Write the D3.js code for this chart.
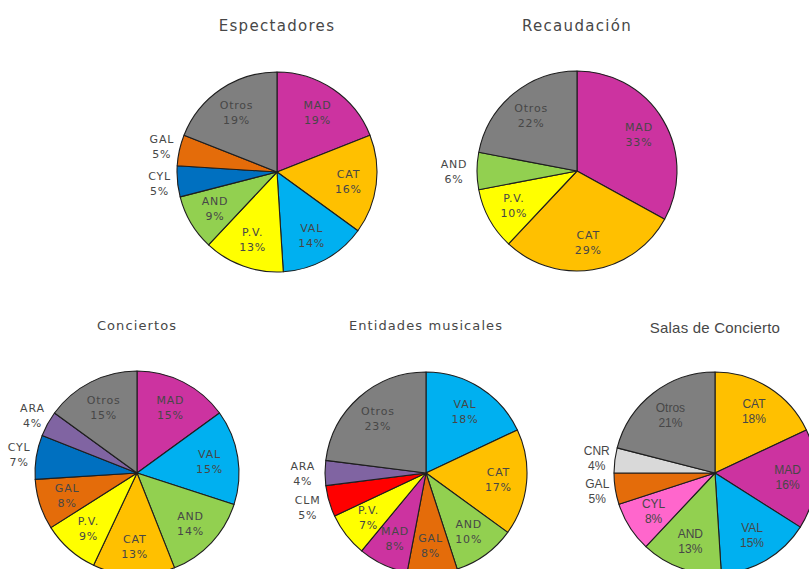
<!DOCTYPE html>
<html>
<head>
<meta charset="utf-8">
<script src="https://cdn.jsdelivr.net/npm/d3@7/dist/d3.min.js"></script>
<style>
  html, body { margin: 0; padding: 0; background: #ffffff; }
  svg { display: block; }
</style>
</head>
<body>
<svg id="chart" width="809" height="569"></svg>
<script>
// ---- Data: regional shares (%) for each indicator ----
const espectadoresCats = ["MAD", "CAT", "VAL", "P.V.", "AND", "CYL", "GAL", "Otros"];
const espectadoresVals = [19, 16, 14, 13, 9, 5, 5, 19];

const recaudacionCats = ["MAD", "CAT", "P.V.", "AND", "Otros"];
const recaudacionVals = [33, 29, 10, 6, 22];

const conciertosCats = ["MAD", "VAL", "AND", "CAT", "P.V.", "GAL", "CYL", "ARA", "Otros"];
const conciertosVals = [15, 15, 14, 13, 9, 8, 7, 4, 15];

const entidadesCats = ["VAL", "CAT", "AND", "GAL", "MAD", "P.V.", "CLM", "ARA", "Otros"];
const entidadesVals = [18, 17, 10, 8, 8, 7, 5, 4, 23];

const salasCats = ["CAT", "MAD", "VAL", "AND", "CYL", "GAL", "CNR", "Otros"];
const salasVals = [18, 16, 15, 13, 8, 5, 4, 21];

// ---- Colours per region ----
const regionColors = {
  "MAD": "#cc33a0",
  "CAT": "#ffc000",
  "VAL": "#00b0f0",
  "P.V.": "#ffff00",
  "AND": "#92d050",
  "CYL": "#0070c0",
  "GAL": "#e46c0a",
  "ARA": "#8064a2",
  "CLM": "#ff0000",
  "CNR": "#d9d9d9",
  "Otros": "#7f7f7f"
};
const salasColors = Object.assign({}, regionColors, { "CYL": "#ff66cc" });

const gothic = "'DejaVu Sans', sans-serif";
const arial = "'Liberation Sans', Arial, sans-serif";

// ---- Layout of the five pies ----
const charts = [
  { title: "Espectadores", cats: espectadoresCats, vals: espectadoresVals, colors: regionColors,
    outside: ["CYL", "GAL"], cx: 277, cy: 172, r: 100, titleY: 31, titleSize: 15, titleSpacing: 1.3,
    font: gothic, labelSize: 11, labelSpacing: 0.8, outR: 1.18 },
  { title: "Recaudación", cats: recaudacionCats, vals: recaudacionVals, colors: regionColors,
    outside: ["AND"], cx: 577, cy: 171, r: 100, titleY: 31, titleSize: 15, titleSpacing: 1.3,
    font: gothic, labelSize: 11, labelSpacing: 0.8, outR: 1.23 },
  { title: "Conciertos", cats: conciertosCats, vals: conciertosVals, colors: regionColors,
    outside: ["CYL", "ARA"], cx: 137, cy: 473, r: 102, titleY: 330, titleSize: 13, titleSpacing: 1.1,
    font: gothic, labelSize: 11, labelSpacing: 0.8, outR: 1.17 },
  { title: "Entidades musicales", cats: entidadesCats, vals: entidadesVals, colors: regionColors,
    outside: ["CLM", "ARA"], cx: 426, cy: 473, r: 101, titleY: 330, titleSize: 13, titleSpacing: 1.1,
    font: gothic, labelSize: 11, labelSpacing: 0.8, outR: 1.22 },
  { title: "Salas de Concierto", cats: salasCats, vals: salasVals, colors: salasColors,
    outside: ["CNR", "GAL"], cx: 715, cy: 473, r: 101, titleY: 333, titleSize: 15, titleSpacing: 0.2,
    font: arial, labelSize: 12, labelSpacing: 0, outR: 1.18 }
];

const svg = d3.select("#chart");
const textColor = "#474747";

charts.forEach(c => {
  const g = svg.append("g").attr("transform", `translate(${c.cx},${c.cy})`);

  const rows = c.cats.map((name, i) => ({ name, value: c.vals[i] }));
  const pie = d3.pie().sort(null).value(d => d.value);
  const arcs = pie(rows);

  const arc = d3.arc().innerRadius(0).outerRadius(c.r);
  const insideArc = d3.arc().innerRadius(c.r * 0.72).outerRadius(c.r * 0.72);
  const outsideArc = d3.arc().innerRadius(c.r * c.outR).outerRadius(c.r * c.outR);

  // slices, clockwise from twelve o'clock
  g.selectAll("path.slice")
    .data(arcs)
    .join("path")
    .attr("class", "slice")
    .attr("d", arc)
    .attr("fill", d => c.colors[d.data.name])
    .attr("stroke", "#1e1e1e")
    .attr("stroke-width", 1.1)
    .attr("stroke-linejoin", "round");

  // two-line labels: region name and percentage
  const labels = g.selectAll("text.lbl")
    .data(arcs)
    .join("text")
    .attr("class", "lbl")
    .attr("text-anchor", "middle")
    .attr("font-family", c.font)
    .attr("font-size", c.labelSize)
    .attr("letter-spacing", c.labelSpacing)
    .attr("fill", textColor)
    .attr("transform", d => {
      const p = (c.outside.includes(d.data.name) ? outsideArc : insideArc).centroid(d);
      return `translate(${p[0]},${p[1]})`;
    });

  labels.append("tspan")
    .attr("x", 0)
    .attr("y", -3.5)
    .text(d => d.data.name);
  labels.append("tspan")
    .attr("x", 0)
    .attr("y", 11.5)
    .text(d => d.data.value + "%");

  svg.append("text")
    .attr("x", c.cx)
    .attr("y", c.titleY)
    .attr("text-anchor", "middle")
    .attr("font-family", c.font)
    .attr("font-size", c.titleSize)
    .attr("letter-spacing", c.titleSpacing)
    .attr("fill", textColor)
    .text(c.title);
});
</script>
</body>
</html>
